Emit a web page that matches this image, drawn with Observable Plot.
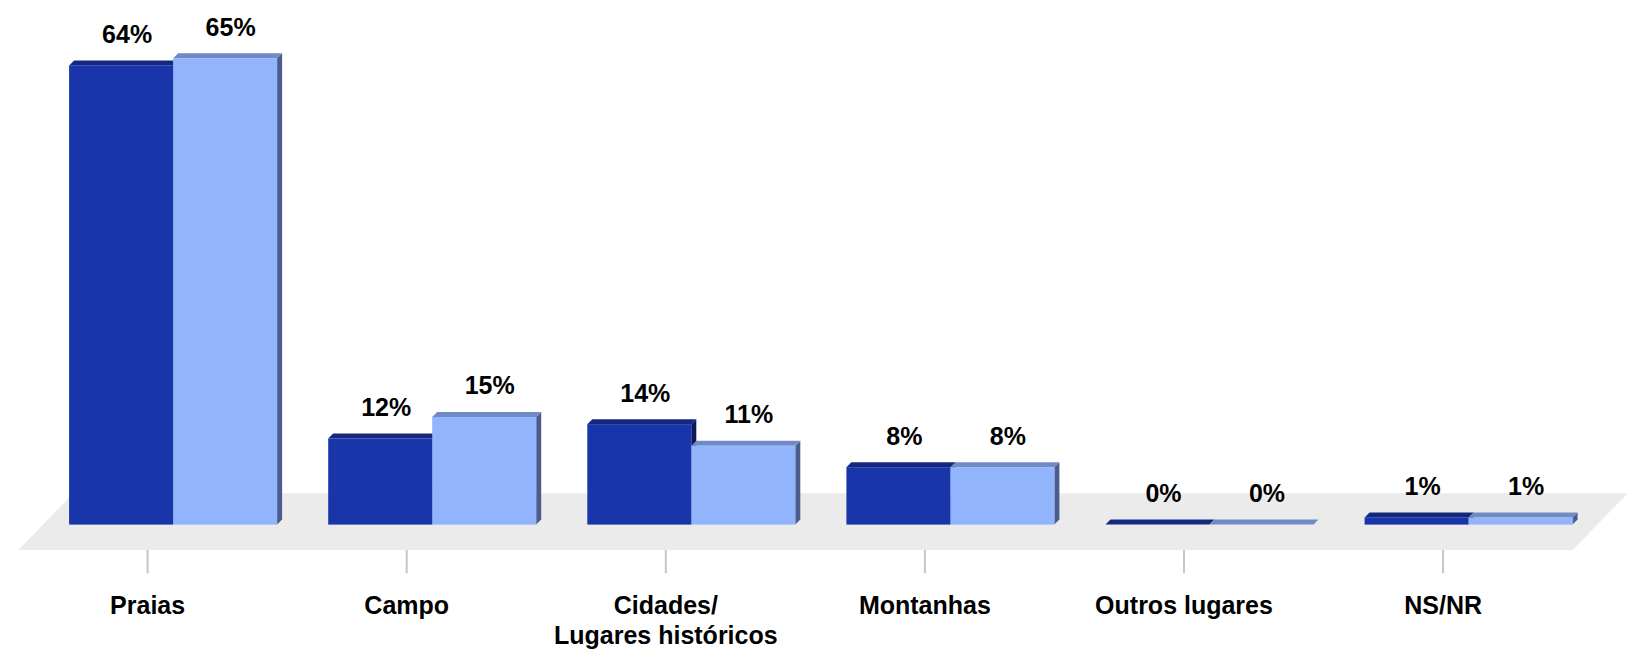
<!DOCTYPE html>
<html>
<head>
<meta charset="utf-8">
<script src="https://cdn.jsdelivr.net/npm/d3@7"></script>
<script src="https://cdn.jsdelivr.net/npm/@observablehq/plot@0.6"></script>
<style>
  html, body { margin: 0; padding: 0; background: #ffffff; }
  #chart svg { display: block; }
</style>
</head>
<body>
<div id="chart"></div>
<script>
// ---- data ----
const categories = ["Praias", "Campo", "Cidades/\nLugares históricos", "Montanhas", "Outros lugares", "NS/NR"];
const seriesA = [64, 12, 14, 8, 0, 1];   // dark blue
const seriesB = [65, 15, 11, 8, 0, 1];   // light blue
const labelsA = seriesA.map(v => v + "%");
const labelsB = seriesB.map(v => v + "%");

// ---- layout / style constants ----
const W = 1629, H = 652;
const xDomain = [-0.6681, 5.6191];
const yDomain = [-17.756, 73.115];
const kx = W / (xDomain[1] - xDomain[0]);   // px per x unit
const ky = H / (yDomain[1] - yDomain[0]);   // px per y unit
const depth = 5;                              // 3D depth in px
const dX = depth / kx, dY = depth / ky;
const hw = 104 / kx;                          // bar width in x units
const tickShift = -26 / kx;                   // perspective shift of floor front
const floorFront = -25.4 / ky, floorBack = 31.3 / ky;
const floorLeft = -154.8 / kx, floorRight = 1399.6 / kx + 0; // relative to first group
const floorSlant = 55 / kx;

const C = {
  aFront: "#1835a9", aTop: "#13287e", aSide: "#0c1a5c",
  bFront: "#91b4fd", bTop: "#6f8ac4", bSide: "#4a5c8c",
  floor: "#ebebeb", tick: "#c6c6c6"
};

const idx = categories.map((_, i) => i);

function fronts(vals, off) {
  return vals.map((v, i) => ({x1: i + off, x2: i + off + hw, y1: 0, y2: v}));
}
function tops(vals, off, tag) {
  const out = [];
  vals.forEach((v, i) => {
    const x1 = i + off, x2 = x1 + hw, id = tag + i;
    out.push({id, x: x1, y1: v, y2: v});
    out.push({id, x: x1 + dX, y1: v, y2: v + dY});
    out.push({id, x: x2, y1: v, y2: v + dY});
    out.push({id, x: x2 + dX, y1: v + dY, y2: v + dY});
  });
  return out;
}
function sides(vals, off, tag) {
  const out = [];
  vals.forEach((v, i) => {
    if (v <= 0) return;
    const x2 = i + off + hw, id = tag + i;
    out.push({id, x: x2, y1: 0, y2: v});
    out.push({id, x: x2 + dX, y1: dY, y2: v + dY});
  });
  return out;
}

const floor = [
  {x: floorLeft, y1: floorFront, y2: floorFront},
  {x: floorLeft + floorSlant, y1: floorFront, y2: floorBack},
  {x: floorRight, y1: floorFront, y2: floorBack},
  {x: floorRight + floorSlant, y1: floorBack, y2: floorBack}
];

const font = "'Liberation Sans', Arial, Helvetica, sans-serif";

const plot = Plot.plot({
  width: W, height: H,
  margin: 0,
  x: {type: "linear", domain: xDomain, axis: null},
  y: {type: "linear", domain: yDomain, axis: null},
  style: {fontFamily: font, background: "#ffffff", overflow: "visible"},
  marks: [
    Plot.areaY(floor, {x: "x", y1: "y1", y2: "y2", fill: C.floor, curve: "linear"}),
    Plot.ruleX(idx, {x: i => i + tickShift, y1: floorFront, y2: floorFront - 23.3 / ky, stroke: C.tick, strokeWidth: 2}),
    Plot.text(idx, {
      x: i => i + tickShift, y: floorFront, dy: 42,
      text: i => categories[i], lineAnchor: "top", lineHeight: 1.2,
      fontSize: 25, fontWeight: "bold", fill: "#000000", textAnchor: "middle"
    }),
    // dark series
    Plot.areaY(sides(seriesA, -hw, "a"), {x: "x", y1: "y1", y2: "y2", z: "id", fill: C.aSide, curve: "linear"}),
    Plot.areaY(tops(seriesA, -hw, "a"), {x: "x", y1: "y1", y2: "y2", z: "id", fill: C.aTop, curve: "linear"}),
    Plot.rectY(fronts(seriesA, -hw), {x1: "x1", x2: "x2", y1: "y1", y2: "y2", fill: C.aFront}),
    // light series
    Plot.areaY(sides(seriesB, 0, "b"), {x: "x", y1: "y1", y2: "y2", z: "id", fill: C.bSide, curve: "linear"}),
    Plot.areaY(tops(seriesB, 0, "b"), {x: "x", y1: "y1", y2: "y2", z: "id", fill: C.bTop, curve: "linear"}),
    Plot.rectY(fronts(seriesB, 0), {x1: "x1", x2: "x2", y1: "y1", y2: "y2", fill: C.bFront}),
    // value labels
    Plot.text(idx, {
      x: i => i - hw / 2, y: i => seriesA[i], text: i => labelsA[i],
      dx: 5.5, dy: -23, lineAnchor: "bottom", fontSize: 25, fontWeight: "bold", fill: "#000000"
    }),
    Plot.text(idx, {
      x: i => i + hw / 2, y: i => seriesB[i], text: i => labelsB[i],
      dx: 5, dy: -23, lineAnchor: "bottom", fontSize: 25, fontWeight: "bold", fill: "#000000"
    })
  ]
});

document.getElementById("chart").appendChild(plot);
</script>
</body>
</html>
